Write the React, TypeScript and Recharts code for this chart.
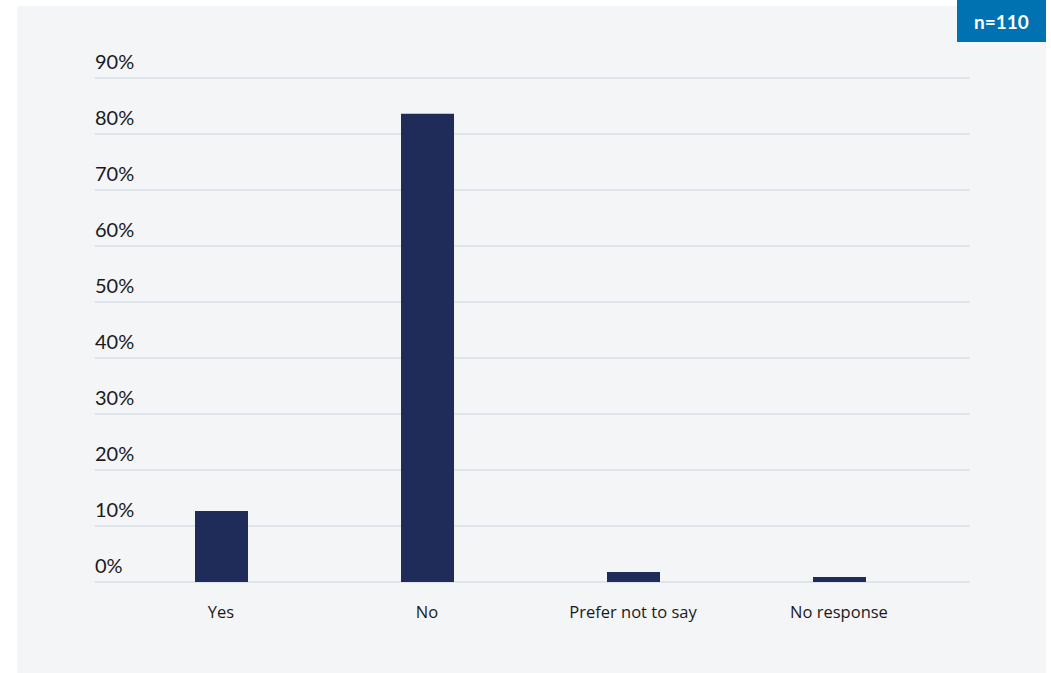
import React from "react";
import { BarChart, Bar, XAxis, YAxis, CartesianGrid } from "recharts";

const categories = ["Yes", "No", "Prefer not to say", "No response"];
const values = [12.7, 83.6, 1.8, 0.9];
const yTicks = [0, 10, 20, 30, 40, 50, 60, 70, 80, 90];
const sampleLabel = "n=110";

const data = categories.map((c, i) => ({ name: c, value: values[i] }));

const renderYTick = (props: any) => {
  const { y, payload } = props;
  return (
    <text x={95} y={y - 9} textAnchor="start" fill="#1a1a1a" fontSize={20} fontFamily="Lato, 'Open Sans', sans-serif">
      {payload.value}%
    </text>
  );
};

const renderXTick = (props: any) => {
  const { x, payload } = props;
  return (
    <text x={x} y={618} textAnchor="middle" fill="#1a1a1a" fontSize={16.5} fontFamily="'Open Sans', sans-serif">
      {payload.value}
    </text>
  );
};

export default function App() {
  return (
    <div style={{ position: "absolute", left: 0, top: 0, width: 1051, height: 673, background: "#ffffff" }}>
      <div style={{ position: "absolute", left: 17, top: 6, width: 1029, height: 667, background: "#f4f5f7" }} />
      <div
        style={{
          position: "absolute",
          left: 957,
          top: 0,
          width: 89,
          height: 42,
          background: "#0071b1",
          color: "#ffffff",
          fontFamily: "Lato, 'Open Sans', sans-serif",
          fontWeight: 700,
          fontSize: 19,
          display: "flex",
          alignItems: "center",
          justifyContent: "center",
        }}
      >
        {sampleLabel}
      </div>
      <div style={{ position: "absolute", left: 0, top: 0 }}>
        <BarChart width={1051} height={673} data={data} margin={{ top: 78, right: 81, bottom: 51, left: 35 }}>
          <CartesianGrid vertical={false} stroke="#c6d3df" strokeWidth={1} />
          <XAxis
            dataKey="name"
            axisLine={false}
            tickLine={false}
            padding={{ left: 23, right: 28 }}
            tick={renderXTick}
            interval={0}
            height={40}
          />
          <YAxis
            domain={[0, 90]}
            ticks={yTicks}
            axisLine={false}
            tickLine={false}
            width={60}
            tick={renderYTick}
            interval={0}
          />
          <Bar dataKey="value" fill="#1f2c59" barSize={53} isAnimationActive={false} />
        </BarChart>
      </div>
    </div>
  );
}
